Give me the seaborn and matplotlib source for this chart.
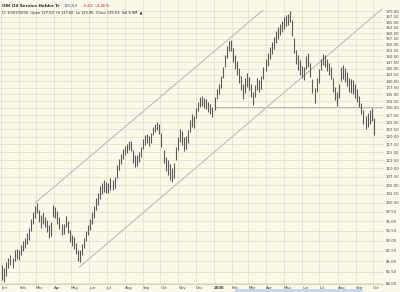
import numpy as np
import pandas as pd
import matplotlib
matplotlib.use("Agg")
import matplotlib.pyplot as plt
import seaborn as sns

# ---- data (prices, log scale) ----
highs = [84.1, 83.4, 84.8, 85.8, 86.5, 85.8, 87.7, 87.9, 87.7, 88.9,
         89.9, 90.6, 91.9, 93.2, 95.6, 97.4, 99.0, 99.9, 97.9, 96.6,
         97.4, 96.1, 95.3, 94.0, 94.8, 99.3, 98.7, 97.6, 96.1, 94.3,
         94.3, 96.3, 95.0, 92.7, 91.4, 90.9, 89.4, 87.7, 87.7, 89.1,
         90.6, 92.4, 94.0, 95.6, 97.4, 99.0, 101.3, 102.7, 104.7, 105.6,
         106.4, 105.8, 105.6, 107.0, 106.4, 107.3, 111.0, 112.8, 114.4, 116.0,
         117.0, 117.6, 118.6, 118.6, 115.7, 114.1, 114.1, 115.1, 116.7, 119.2,
         120.6, 120.9, 120.3, 121.3, 123.3, 124.3, 125.0, 124.3, 121.3, 115.7,
         113.5, 112.5, 111.3, 110.0, 111.6, 116.7, 119.9, 122.6, 122.0, 119.9,
         120.3, 122.3, 125.7, 127.8, 127.1, 129.9, 132.1, 134.0, 134.3, 133.6,
         133.3, 132.1, 131.4, 130.3, 134.0, 137.0, 138.9, 142.0, 145.6, 150.5,
         154.3, 156.5, 156.9, 153.4, 150.5, 148.0, 145.2, 142.0, 138.9, 141.2,
         143.2, 141.6, 138.9, 135.8, 138.5, 141.2, 140.4, 142.0, 145.6, 148.8,
         151.3, 153.9, 156.0, 158.2, 160.9, 162.7, 164.0, 165.4, 167.2, 168.1,
         168.6, 170.0, 165.8, 157.8, 152.6, 150.5, 148.4, 146.0, 145.6, 150.1,
         151.3, 147.2, 140.8, 137.4, 141.2, 144.8, 148.8, 150.9, 150.5, 148.8,
         147.2, 145.6, 141.2, 137.7, 135.8, 138.9, 145.6, 146.4, 145.2, 143.6,
         141.2, 140.8, 140.4, 138.9, 137.0, 134.3, 131.8, 129.2, 127.1, 128.1,
         129.2, 129.9, 126.4]
lows = [80.7, 80.2, 81.6, 83.4, 84.1, 83.4, 85.1, 85.5, 85.3, 86.5,
        87.5, 88.2, 89.1, 90.1, 92.4, 94.3, 95.8, 97.1, 94.8, 93.2,
        94.3, 93.5, 92.2, 90.6, 91.2, 96.1, 95.8, 94.3, 93.0, 91.4,
        91.7, 93.5, 91.9, 89.6, 88.7, 87.9, 86.7, 85.1, 84.8, 86.5,
        88.2, 89.9, 91.4, 92.7, 94.3, 95.8, 97.9, 99.3, 101.0, 102.4,
        103.0, 102.7, 102.7, 103.5, 103.5, 104.1, 107.0, 109.4, 111.3, 112.8,
        114.1, 114.7, 115.7, 115.4, 111.6, 110.4, 110.7, 111.9, 113.5, 116.0,
        117.3, 117.9, 117.0, 117.9, 120.6, 121.6, 122.3, 120.9, 116.7, 111.6,
        109.1, 107.9, 106.4, 105.8, 107.0, 112.5, 115.7, 118.3, 117.3, 115.4,
        116.0, 117.9, 121.6, 123.3, 123.0, 126.4, 128.8, 130.3, 130.6, 129.9,
        129.6, 128.5, 127.8, 126.7, 129.2, 133.3, 135.1, 137.4, 141.2, 145.6,
        149.2, 152.2, 152.2, 147.6, 144.8, 142.4, 139.3, 136.6, 133.3, 135.5,
        137.7, 136.6, 134.0, 131.0, 134.0, 136.6, 135.8, 137.0, 140.8, 144.0,
        146.0, 148.8, 150.9, 153.0, 155.6, 157.3, 159.1, 160.4, 161.8, 163.1,
        163.6, 164.9, 158.6, 151.3, 146.8, 144.4, 142.4, 141.2, 140.4, 144.8,
        145.6, 141.6, 135.5, 131.8, 135.8, 139.3, 144.4, 146.4, 145.6, 144.0,
        142.4, 140.8, 135.8, 132.9, 130.6, 133.6, 140.0, 140.8, 139.6, 138.1,
        135.8, 135.5, 135.1, 133.6, 132.1, 130.3, 127.8, 124.3, 122.6, 123.3,
        124.3, 125.3, 120.6]

# trend lines (date, price endpoints)
line_names = ["upper", "upper", "lower", "lower", "flat", "flat"]
line_dates = ["2005-02-28", "2006-03-26", "2005-05-15", "2006-10-16",
              "2006-01-03", "2006-10-18"]
line_prices = [99.9, 170.5, 83.6, 171.0, 130.5, 130.5]

month_labels = ["Jan", "Feb", "Mar", "Apr", "May", "Jun", "Jul", "Aug", "Sep",
                "Oct", "Nov", "Dec", "2006", "Feb", "Mar", "Apr", "May", "Jun",
                "Jul", "Aug", "Sep", "Oct"]
ytick_values = [80 + 2.5 * k for k in range(37)]

title_name = "OIH Oil Service Holdrs Tr"
title_last = "125.53"
title_chg = "-5.62  -4.46%"
title_line2 = "D: 10/02/2006  Open 127.00  Hi 127.60  Lo 123.95  Close 125.53  Vol 9.9M  \u25b2"

# ---- build ----
dates = pd.date_range("2005-01-03", periods=len(highs), freq="84h")
lines_df = pd.DataFrame({"line": line_names,
                         "date": pd.to_datetime(line_dates),
                         "price": line_prices})
month_starts = pd.date_range("2005-01-01", periods=len(month_labels), freq="MS")

sns.set_theme(style="white")
plt.rcParams["font.family"] = ["DejaVu Sans"]

bg = "#fbfaea"
grid_c = "#e4e1c4"
fig = plt.figure(figsize=(4.0, 2.92), dpi=100)
fig.patch.set_facecolor(bg)
ax = fig.add_axes([0.0, 8 / 292, 383 / 400, 283 / 292])
ax.set_facecolor(bg)

ax.set_yscale("log")
ax.set_ylim(79.8, 174.9)
ax.set_xlim(pd.Timestamp("2004-12-30"), pd.Timestamp("2006-10-18"))

# grid
for v in ytick_values:
    ax.axhline(v, color=grid_c, lw=0.6, zorder=0)
for d in month_starts:
    ax.axvline(d, color=grid_c, lw=0.6, zorder=0)

# trend lines via seaborn
sns.lineplot(data=lines_df, x="date", y="price", units="line", estimator=None,
             color="#bcbcbc", lw=0.8, ax=ax, zorder=2, legend=False)

# price bars
ax.vlines(dates, lows, highs, color="#5a5a5a", lw=0.8, zorder=3)

# axes styling
ax.yaxis.tick_right()
ax.yaxis.set_minor_locator(matplotlib.ticker.NullLocator())
ax.set_yticks(ytick_values)
ax.set_yticklabels([f"{v:.2f}" for v in ytick_values])
ax.tick_params(axis="y", which="both", length=0, pad=2, labelsize=2.8,
               labelcolor="#444444")
ax.set_xticks(month_starts)
ax.set_xticklabels(month_labels, ha="left")
ax.tick_params(axis="x", length=0, pad=1.5, labelsize=2.8, labelcolor="#444444")
for lab in ax.get_xticklabels():
    if lab.get_text() == "2006":
        lab.set_fontweight("bold")
ax.set_xlabel("")
ax.set_ylabel("")
for s in ax.spines.values():
    s.set_visible(False)
ax.spines["bottom"].set_visible(True)
ax.spines["bottom"].set_color("#cfcbb0")
ax.spines["bottom"].set_linewidth(0.6)

# header text
fig.text(0.004, 0.986, title_name, fontsize=3.0, fontweight="bold",
         color="#222222", va="top", ha="left")
fig.text(0.16, 0.986, title_last, fontsize=3.0, color="#2a3a8a", va="top", ha="left")
fig.text(0.205, 0.986, title_chg, fontsize=3.0, color="#d02020", va="top", ha="left")
fig.text(0.004, 0.962, title_line2, fontsize=2.6, color="#222222", va="top", ha="left")

# scrollbar strip at bottom
fig.patches.append(matplotlib.patches.Rectangle((235 / 400, 0), 128 / 400, 3 / 292,
                   transform=fig.transFigure, facecolor="#c8d4ea", edgecolor="none"))

fig.savefig("out.png", dpi=100, facecolor=bg)
